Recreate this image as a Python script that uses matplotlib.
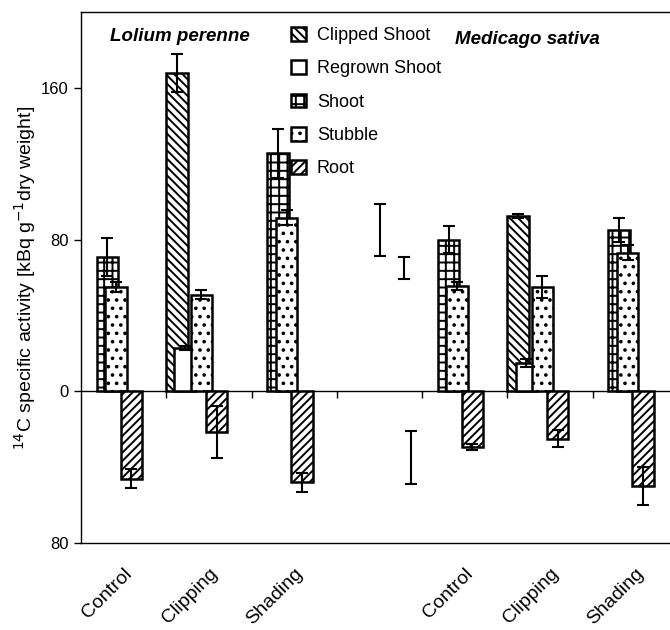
import numpy as np
import matplotlib
matplotlib.use("Agg")
import matplotlib.pyplot as plt
from matplotlib.ticker import FuncFormatter

plt.rcParams['font.family'] = ['Liberation Sans', 'DejaVu Sans']
plt.rcParams['hatch.linewidth'] = 1.4

# --- datos ---
categorias = ['Control', 'Clipping', 'Shading', '', 'Control', 'Clipping', 'Shading']
nan = np.nan
clipped_shoot = [nan, 168, nan, nan, nan, 92.5, nan]
clipped_err = [nan, 10, nan, nan, nan, 1, nan]
regrown_shoot = [nan, 23, nan, nan, nan, 15, nan]
regrown_err = [nan, 1, nan, nan, nan, 2, nan]
shoot = [71, nan, 125.5, nan, 80, nan, 85]
shoot_err = [10, nan, 13, nan, 7, nan, 6.5]
stubble = [55, 51, 91.5, nan, 55.5, 55, 73]
stubble_err = [2.5, 2.5, 4, nan, 2, 6, 4]
root = [-46, -21.5, -48, nan, -29.5, -25, -50]
root_err = [5, 13.5, 5, nan, 1.5, 4.5, 10]

# barras de error sueltas en el hueco entre especies
lsd_centro = [85, 65, -35]
lsd_medio = [13.5, 6, 14]
lsd_offset = [0.0, 0.285, 0.37]

series = [
    ('Clipped Shoot', clipped_shoot, clipped_err, '\\\\\\\\', -0.375),
    ('Regrown Shoot', regrown_shoot, regrown_err, '', -0.28),
    ('Shoot', shoot, shoot_err, '++', -0.19),
    ('Stubble', stubble, stubble_err, '..', -0.09),
    ('Root', root, root_err, '////', 0.09),
]
ancho = 0.25

fig = plt.figure(figsize=(6.7, 6.3), dpi=100)
ax = fig.add_axes([81/670, 87/630, 597/670, 531/630])

x = np.arange(len(categorias))
handles = []
for i, (nombre, vals, errs, hatch, off) in enumerate(series):
    vals = np.array(vals, dtype=float)
    errs = np.array(errs, dtype=float)
    ok = ~np.isnan(vals)
    b = ax.bar(x[ok] + off, vals[ok], ancho, color='white', edgecolor='black',
               linewidth=1.8, hatch=hatch, zorder=2 + i, label=nombre)
    ax.errorbar(x[ok] + off, vals[ok], yerr=errs[ok], fmt='none', ecolor='black',
                elinewidth=1.5, capsize=4.2, capthick=1.5, zorder=2 + i)
    handles.append(b)

ax.errorbar(3 + np.array(lsd_offset), lsd_centro, yerr=lsd_medio, fmt='none',
            ecolor='black', elinewidth=1.5, capsize=4.2, capthick=1.5, zorder=8)

# linea del cero con sus marcas
ax.axhline(0, color='black', lw=1, zorder=1)
ax.plot(np.arange(len(categorias)) + 0.5, np.zeros(len(categorias)), linestyle='none',
        marker=3, ms=5, mew=1, color='black', zorder=1)

ax.set_xlim(-0.5, 6.5)
ax.set_ylim(-80, 200)
ax.set_yticks([-80, 0, 80, 160])
ax.yaxis.set_major_formatter(FuncFormatter(lambda v, p: f"{abs(v):.0f}"))
ax.tick_params(axis='y', direction='out', length=5, width=1, labelsize=12, pad=4)

ax.set_xticks(x)
ax.set_xticklabels(categorias, rotation=45, ha='right', rotation_mode='anchor', fontsize=14)
ax.tick_params(axis='x', length=0, pad=16)

for s in ax.spines.values():
    s.set_linewidth(1)
ax.spines['right'].set_visible(False)

ax.set_ylabel('$^{14}$C specific activity [kBq g$^{-1}$dry weight]', fontsize=14, labelpad=2)

ax.text(0.66, 187, 'Lolium perenne', fontsize=13.5, fontweight='bold', style='italic',
        ha='center', va='center')
ax.text(4.73, 185.5, 'Medicago sativa', fontsize=13.5, fontweight='bold', style='italic',
        ha='center', va='center')

fig.legend(handles=handles, loc='upper left', bbox_to_anchor=(291/670, 1 - 27/630),
           frameon=False, fontsize=13, handlelength=0.83, handleheight=0.78,
           handletextpad=0.6, labelspacing=0.9, borderpad=0, borderaxespad=0)

fig.savefig('out.png', dpi=100)
